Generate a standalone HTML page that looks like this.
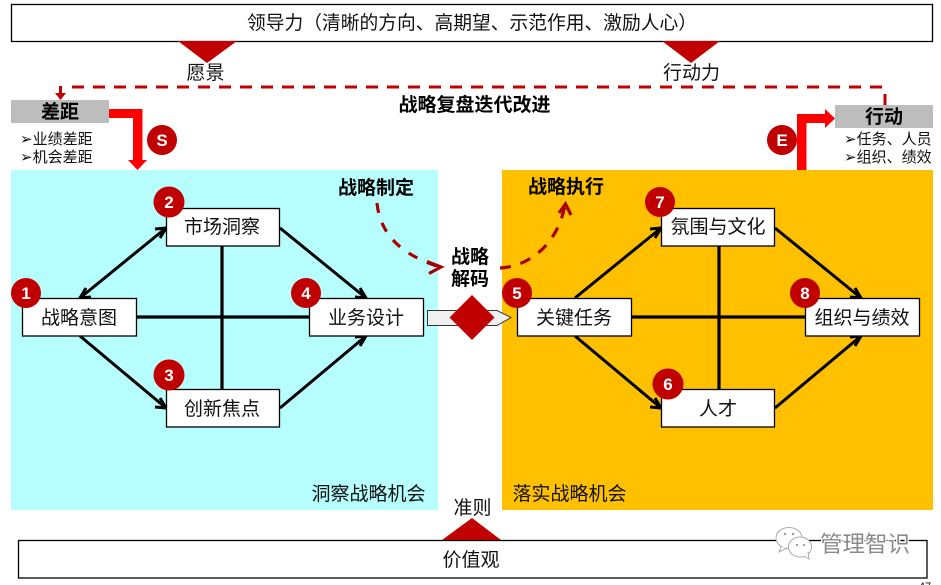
<!DOCTYPE html>
<html lang="zh"><head><meta charset="utf-8"><style>
html,body{margin:0;padding:0;background:#fff;width:941px;height:585px;overflow:hidden}
svg{display:block}
text{font-family:"Liberation Sans","WenQuanYi Zen Hei","Noto Sans CJK SC",sans-serif;fill:#111;text-anchor:middle}
.b{font-family:"Liberation Sans","Noto Sans CJK SC",sans-serif;font-weight:700;font-size:19px;fill:#000}
.n{font-family:"Liberation Sans",sans-serif;font-weight:700;font-size:17px;fill:#fff}
.box{fill:#fff;stroke:#000;stroke-width:1.3}
.l{stroke:#000;stroke-width:3.2;fill:none}
.a{stroke:#000;stroke-width:3;fill:none}
.m{font-size:19px}
.s{font-size:15px;text-anchor:start}
.t{font-size:19px}
</style></head><body>
<svg width="941" height="585" viewBox="0 0 941 585" xmlns="http://www.w3.org/2000/svg">
<rect x="11" y="170" width="427" height="340" fill="#b7ffff"/>
<rect x="502" y="170" width="431" height="340" fill="#ffc000"/>
<rect class="box" x="11.5" y="4.5" width="921" height="37"/>
<text x="247" y="29" font-size="18.75" style="text-anchor:start">领导力（清晰的方向、高期望、示范作用、激励人心）</text>
<polygon points="178,41 237,41 207,63" fill="#c00000"/>
<polygon points="662,41 720,41 691,63" fill="#c00000"/>
<text class="t" x="205.500" y="79">愿景</text>
<text class="t" x="691.500" y="79">行动力</text>
<path d="M72 87H885" stroke="#c00000" stroke-width="3" stroke-dasharray="12 9" fill="none"/>
<path d="M885 94V105" stroke="#c00000" stroke-width="3"/>
<path d="M60.500 86V95" stroke="#c00000" stroke-width="3"/>
<polygon points="55,93 66,93 60.500,100" fill="#c00000"/>
<text class="b" x="474.500" y="111">战略复盘迭代改进</text>
<rect x="11" y="100" width="98" height="23" fill="#bdbdbd"/>
<text class="b" x="60" y="118">差距</text>
<rect x="835" y="105" width="98" height="23" fill="#bdbdbd"/>
<text class="b" x="884" y="123">行动</text>
<polygon points="109,109 142.500,109 142.500,160 147,160 137.500,170 128,160 133,160 133,118 109,118" fill="#f00"/>
<polygon points="797,170 797,114 825,114 825,109 835,118.500 825,128 825,123 806.500,123 806.500,170" fill="#f00"/>
<text class="s" x="20" y="144">➢业绩差距</text><text class="s" x="20" y="162">➢机会差距</text><text class="s" x="844" y="144">➢任务、人员</text><text class="s" x="844" y="162">➢组织、绩效</text>
<text class="b" x="376" y="194">战略制定</text>
<text class="b" x="566" y="193">战略执行</text>
<text class="b" x="470" y="263">战略</text>
<text class="b" x="470" y="285">解码</text>
<path d="M377 203C380 232 398 254 440 267" fill="none" stroke="#a80000" stroke-width="3.2" stroke-dasharray="10 10.500"/>
<path d="M427 261.500L441 267L429 273.500" fill="none" stroke="#a80000" stroke-width="3.2"/>
<path d="M500 268C532 266 558 242 565 205" fill="none" stroke="#a80000" stroke-width="3.2" stroke-dasharray="11 10"/>
<path d="M559 213L565.500 204L571 215" fill="none" stroke="#a80000" stroke-width="3.2"/>
<!-- left lines -->
<path class="l" d="M136 317H309M222 246V389M631 317H805M719 246V389"/>
<path class="a" d="M80 298L166 228M155 229L166 228L160 238M91 297L80 298L86 288"/>
<path class="a" d="M80 336L166 408M155 407L166 408L160 398"/>
<path class="a" d="M280 228L366 298M355 297L366 298L360 288"/>
<path class="a" d="M280 408L366 336M355 337L366 336L360 346"/>
<path class="a" d="M575 298L661 228M650 229L661 228L655 238"/>
<path class="a" d="M575 336L661 408M650 407L661 408L655 398"/>
<path class="a" d="M775 228L861 298M850 297L861 298L855 288"/>
<path class="a" d="M775 408L861 336M850 337L861 336L855 346"/>
<!-- boxes -->
<rect class="box" x="22.500" y="298.500" width="114" height="37.500"/><text class="m" x="79" y="324">战略意图</text>
<rect class="box" x="166.500" y="208.500" width="113" height="37.500"/><text class="m" x="222" y="233">市场洞察</text>
<rect class="box" x="166.500" y="389.500" width="113" height="37.500"/><text class="m" x="222" y="415">创新焦点</text>
<rect class="box" x="309.500" y="298.500" width="114" height="37.500"/><text class="m" x="366" y="324">业务设计</text>
<rect class="box" x="517.500" y="298.500" width="114" height="37.500"/><text class="m" x="574" y="324">关键任务</text>
<rect class="box" x="661.500" y="208.500" width="113" height="37.500"/><text class="m" x="718" y="233">氛围与文化</text>
<rect class="box" x="661.500" y="389.500" width="113" height="37.500"/><text class="m" x="718" y="415">人才</text>
<rect class="box" x="805.500" y="298.500" width="114" height="37.500"/><text class="m" x="862" y="324">组织与绩效</text>
<polygon points="427.500,310.500 497,310.500 511,317.500 497,325.500 427.500,325.500" fill="#f0f0f0" stroke="#333" stroke-width="1"/>
<polygon points="472,295 494.500,317.500 472,340 449.500,317.500" fill="#c00000"/>
<!-- badges -->
<g fill="#c00000">
<circle cx="162" cy="140" r="15"/><circle cx="782" cy="140" r="15"/>
<circle cx="26" cy="293" r="15"/><circle cx="169" cy="202" r="15.500"/><circle cx="169" cy="375" r="15.500"/><circle cx="306" cy="293" r="15"/>
<circle cx="517" cy="293" r="15"/><circle cx="660" cy="202" r="15"/><circle cx="668" cy="384" r="15.500"/><circle cx="805" cy="293" r="15"/>
</g>
<text class="n" x="162" y="146">S</text><text class="n" x="782" y="146">E</text>
<text class="n" x="26" y="299">1</text><text class="n" x="169" y="208">2</text><text class="n" x="169" y="381">3</text><text class="n" x="306" y="299">4</text>
<text class="n" x="517" y="299">5</text><text class="n" x="660" y="208">7</text><text class="n" x="668" y="390">6</text><text class="n" x="805" y="299">8</text>
<text class="t" x="368.500" y="500">洞察战略机会</text>
<text class="t" x="569.500" y="500">落实战略机会</text>
<text class="t" x="472.500" y="514">准则</text>
<rect class="box" x="18.500" y="540.500" width="908.500" height="37.500"/>
<polygon points="442,540 501,540 472,518" fill="#c00000"/>
<text class="t" x="471" y="566">价值观</text>
<!-- watermark -->
<g fill="#fff" stroke="#aaa" stroke-width="1">
<ellipse cx="789" cy="538" rx="13" ry="10.500"/><path d="M781 547L779 552L787 548"/>
<ellipse cx="800" cy="547" rx="11.500" ry="10"/><path d="M804 556L809 559L808 552"/>
</g>
<g fill="#999"><circle cx="785" cy="534" r="1.200"/><circle cx="793" cy="534" r="1.200"/><circle cx="797" cy="545" r="1.100"/><circle cx="804" cy="545" r="1.100"/></g>
<text x="865" y="552" font-size="22.500" style="fill:#8a8a8a;stroke:#fff;stroke-width:2.500px;paint-order:stroke">管理智识</text>
<text x="925" y="590" font-size="11" style="font-family:'Liberation Sans',sans-serif">47</text>
</svg>
</body></html>
